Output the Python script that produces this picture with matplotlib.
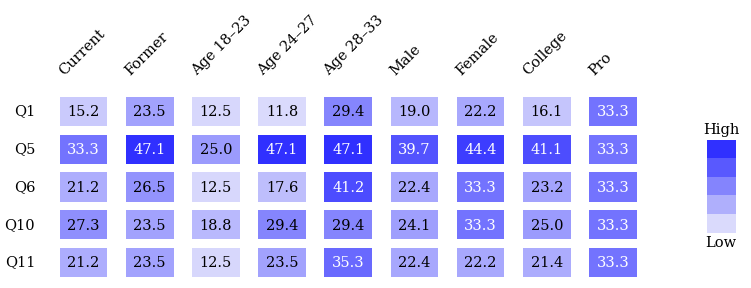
import numpy as np
import matplotlib
matplotlib.use("Agg")
import matplotlib.pyplot as plt
from matplotlib.colors import LinearSegmentedColormap
from matplotlib.patches import Rectangle

columns = ["Current", "Former", "Age 18\u201323", "Age 24\u201327", "Age 28\u201333",
           "Male", "Female", "College", "Pro"]
questions = ["Q1", "Q5", "Q6", "Q10", "Q11"]

q1 = [15.2, 23.5, 12.5, 11.8, 29.4, 19.0, 22.2, 16.1, 33.3]
q5 = [33.3, 47.1, 25.0, 47.1, 47.1, 39.7, 44.4, 41.1, 33.3]
q6 = [21.2, 26.5, 12.5, 17.6, 41.2, 22.4, 33.3, 23.2, 33.3]
q10 = [27.3, 23.5, 18.8, 29.4, 29.4, 24.1, 33.3, 25.0, 33.3]
q11 = [21.2, 23.5, 12.5, 23.5, 35.3, 22.4, 22.2, 21.4, 33.3]

plt.rcParams['font.family'] = ['DejaVu Serif']
FS = 10.5

values = np.array([q1, q5, q6, q10, q11])
vmin, vmax = values.min(), values.max()
cmap = LinearSegmentedColormap.from_list("lav", ["#dadafc", "#3030ff"])

fig = plt.figure(figsize=(7.51, 2.88), dpi=100)
ax = fig.add_axes([0.0671, 0.0229, 0.7932, 0.6556])
ax.set_xlim(-0.5, len(columns) - 0.5)
ax.set_ylim(len(questions) - 0.5, -0.5)
ax.axis("off")

cw, ch = 0.72, 0.77
for r, row in enumerate(values):
    for c, v in enumerate(row):
        col = cmap((v - vmin) / (vmax - vmin))
        ax.add_patch(Rectangle((c - cw / 2, r - ch / 2), cw, ch, facecolor=col,
                               edgecolor="none"))
        ax.text(c, r + 0.02, f"{v:.1f}", ha="center", va="center", fontsize=FS,
                color="white" if v > 30 else "black")

for r, q in enumerate(questions):
    ax.text(-0.73, r, q, ha="right", va="center", fontsize=FS)

for c, name in enumerate(columns):
    ax.text(c - 0.29, -0.93, name, rotation=45, rotation_mode="anchor",
            ha="left", va="baseline", fontsize=FS, clip_on=False)

# stepped legend
lax = fig.add_axes([0.9414, 0.191, 0.0373, 0.323])
steps = np.linspace(1, 0, 5).reshape(-1, 1)
lax.imshow(steps, cmap=cmap, vmin=0, vmax=1, aspect="auto",
           extent=[0, 1, 0, 5])
lax.set_xticks([])
lax.set_yticks([])
for s in lax.spines.values():
    s.set_visible(False)
lax.text(0.5, 1.03, "High", transform=lax.transAxes, ha="center", va="bottom",
         fontsize=FS)
lax.text(0.5, -0.03, "Low", transform=lax.transAxes, ha="center", va="top",
         fontsize=FS)

fig.savefig("out.png", dpi=100)
